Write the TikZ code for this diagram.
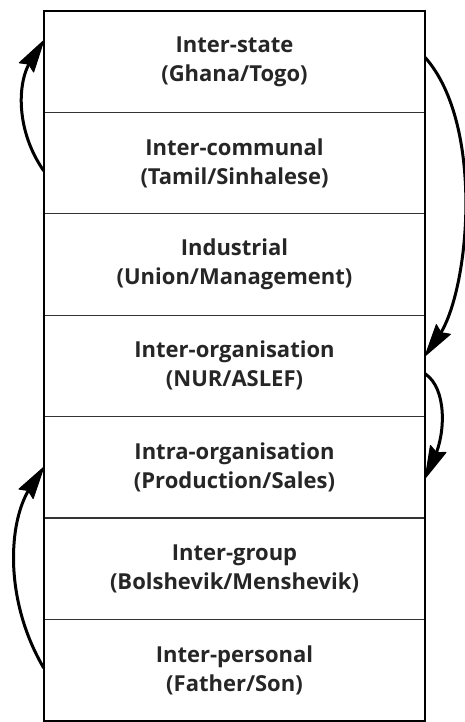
\documentclass[tikz,border=0pt]{standalone}
\usepackage{fontspec}
\setmainfont{Open Sans}
\usetikzlibrary{calc}
\tikzset{
  layer/.style={minimum width=381pt, minimum height=101.43pt, inner sep=0pt,
    align=center, font=\fontsize{22}{29}\selectfont\bfseries, text=black!85},
  frame/.style={line width=2pt},
  sep/.style={line width=1.3pt, draw=black!80},
  flow/.style={line width=3pt, shorten >=24pt},
  headfill/.style={fill=black, draw=black, line width=1pt, line join=round}
}
\newcommand\flowhead[2]{%
  \coordinate (fhb) at ($(#1)!32pt!(#2)$);
  \coordinate (fhi) at ($(#1)!28pt!(#2)$);
  \filldraw[headfill] (#1) -- ($(fhb)!8.5pt!90:(#1)$) -- (fhi) -- ($(fhb)!8.5pt!-90:(#1)$) -- cycle;}
\begin{document}
\begin{tikzpicture}[x=1pt,y=-1pt]
\useasboundingbox (0,0) rectangle (465,722);
\node[layer] (r1) at (234.5,61.5)  {Inter-state\\(Ghana/Togo)};
\node[layer] (r2) at (234.5,162.9) {Inter-communal\\(Tamil/Sinhalese)};
\node[layer] (r3) at (234.5,264.4) {Industrial\\(Union/Management)};
\node[layer] (r4) at (234.5,365.8) {Inter-organisation\\(NUR/ASLEF)};
\node[layer] (r5) at (234.5,467.2) {Intra-organisation\\(Production/Sales)};
\node[layer] (r6) at (234.5,568.7) {Inter-group\\(Bolshevik/Menshevik)};
\node[layer] (r7) at (234.5,670.1) {Inter-personal\\(Father/Son)};
\foreach \i in {1,...,6} \draw[sep] (r\i.south west) -- (r\i.south east);
\draw[frame] (r1.north west) rectangle (r7.south east);
% arrow 1: Inter-communal -> Inter-state (left)
\coordinate (a1s) at ([yshift=-8pt]r2.west);
\coordinate (a1e) at ([yshift=21pt]r1.west);
\coordinate (a1p) at ($(a1s)+(-28,-40)$);
\coordinate (a1q) at ($(a1e)+(-27,42)$);
\draw[flow] (a1s) .. controls (a1p) and (a1q) .. (a1e);
\flowhead{a1e}{a1q}
% arrow 2: Inter-personal -> Intra-organisation (left)
\coordinate (a2s) at ([yshift=2pt]r7.west);
\coordinate (a2e) at (r5.west);
\coordinate (a2p) at ($(a2s)+(-40,-68)$);
\coordinate (a2q) at ($(a2e)+(-36,54)$);
\draw[flow] (a2s) .. controls (a2p) and (a2q) .. (a2e);
\flowhead{a2e}{a2q}
% arrow 3: Inter-state -> Inter-organisation (right)
\coordinate (a3s) at ([yshift=4pt]r1.east);
\coordinate (a3e) at ([yshift=10pt]r4.east);
\coordinate (a3p) at ($(a3s)+(60,68)$);
\coordinate (a3q) at ($(a3e)+(44,-64)$);
\draw[flow] (a3s) .. controls (a3p) and (a3q) .. (a3e);
\flowhead{a3e}{a3q}
% arrow 4: Inter-organisation -> Intra-organisation (right)
\coordinate (a4s) at ([yshift=-8pt]r4.east);
\coordinate (a4e) at ([yshift=-11pt]r5.east);
\coordinate (a4p) at ($(a4s)+(22,15)$);
\coordinate (a4q) at ($(a4e)+(20,-45)$);
\draw[flow] (a4s) .. controls (a4p) and (a4q) .. (a4e);
\flowhead{a4e}{a4q}
\end{tikzpicture}
\end{document}
